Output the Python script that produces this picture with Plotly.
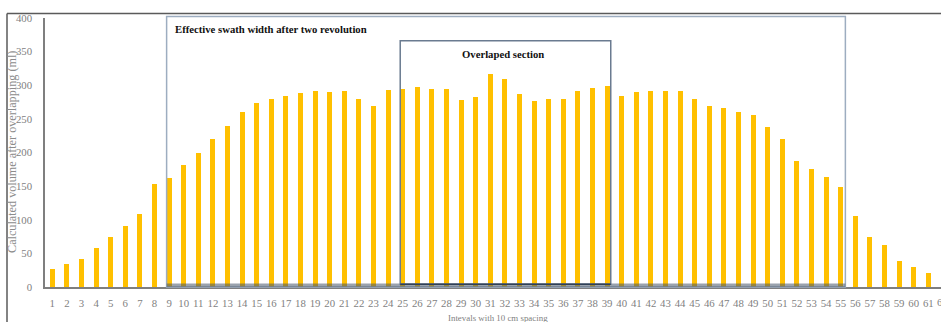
import plotly.graph_objects as go

# Interval index (10 cm spacing) and calculated volume after overlapping (ml)
intervals = list(range(1, 62))
volume_ml = [27, 34, 42, 58, 74, 91, 108, 153, 162, 181,
             200, 220, 240, 260, 274, 280, 284, 289, 291, 290,
             291, 280, 269, 293, 294, 297, 295, 294, 278, 283,
             316, 310, 287, 276, 280, 280, 291, 296, 299, 284,
             290, 291, 291, 292, 280, 269, 266, 260, 256, 238,
             220, 187, 175, 163, 148, 106, 75, 62, 39, 30, 21]
tick_labels = [str(i) for i in range(1, 63)]

# Interval spans of the two highlighted regions
swath_span = (9, 55)
overlap_span = (25, 39)

W, H = 941, 322
M_L, M_R, M_T, M_B = 45, 0, 18, 35
PLOT_W = W - M_L - M_R
PLOT_H = H - M_T - M_B
BAR_W = 0.34
X0 = 0.5
X1 = X0 + PLOT_W / 14.6
Y_MAX = 400

SERIF = "Liberation Serif, Times New Roman, serif"
GREY = "#7f7f7f"
TICK_SIZE = 10.8


def px_x(c):
    return (c - X0) / (X1 - X0)


def px_y(v):
    return v / Y_MAX


def pix_x(p):
    return (p - M_L) / PLOT_W


def pix_y(p):
    return (H - M_B - p) / PLOT_H


fig = go.Figure()
fig.add_trace(go.Bar(
    x=intervals, y=volume_ml, width=BAR_W,
    marker=dict(color="#FFC000", line=dict(width=0)),
    hoverinfo="x+y",
))

sx0 = swath_span[0] - BAR_W / 2
sx1 = swath_span[1] + BAR_W / 2 + 0.15
ox0 = overlap_span[0] - BAR_W / 2
ox1 = overlap_span[1] + BAR_W / 2 + 0.08

shapes = [
    # outer chart frame (top and left edges)
    dict(type="line", xref="paper", yref="paper",
         x0=pix_x(7), x1=pix_x(W + 5), y0=pix_y(13.5), y1=pix_y(13.5),
         line=dict(color="#5a5a5a", width=1.5)),
    dict(type="line", xref="paper", yref="paper",
         x0=pix_x(7), x1=pix_x(7), y0=pix_y(13.5), y1=pix_y(H + 5),
         line=dict(color="#5a5a5a", width=1.5)),
    # effective swath box
    dict(type="rect", xref="paper", yref="paper",
         x0=px_x(sx0), x1=px_x(sx1), y0=0, y1=pix_y(16.5),
         line=dict(color="#9dadc0", width=1.5), fillcolor="rgba(0,0,0,0)",
         layer="above"),
    dict(type="rect", xref="paper", yref="paper",
         x0=px_x(sx0), x1=px_x(sx1), y0=0, y1=px_y(5.2),
         line=dict(width=0), fillcolor="rgba(70,85,105,0.55)", layer="above"),
    # overlapped section box
    dict(type="rect", xref="paper", yref="paper",
         x0=px_x(ox0), x1=px_x(ox1), y0=px_y(4), y1=px_y(366),
         line=dict(color="#6a7b90", width=1.5), fillcolor="rgba(0,0,0,0)",
         layer="above"),
    dict(type="line", xref="paper", yref="paper",
         x0=px_x(ox0), x1=px_x(ox1), y0=px_y(4), y1=px_y(4),
         line=dict(color="#2f4057", width=1.5), layer="above"),
]

annotations = [
    dict(text="<b>Effective swath width after two revolution</b>",
         xref="paper", yref="paper", x=px_x(swath_span[0] + 0.3), y=px_y(384),
         xanchor="left", yanchor="middle", showarrow=False,
         font=dict(family=SERIF, size=10.7, color="#111111")),
    dict(text="<b>Overlaped section</b>",
         xref="paper", yref="paper", x=px_x((ox0 + ox1) / 2 - 0.2), y=px_y(346.5),
         xanchor="center", yanchor="middle", showarrow=False,
         font=dict(family=SERIF, size=10.7, color="#111111")),
    dict(text="Calculated volume after overlapping (ml)",
         xref="paper", yref="paper", x=pix_x(11.5), y=0.5,
         xanchor="center", yanchor="middle", textangle=-90, showarrow=False,
         font=dict(family=SERIF, size=12.2, color="#8c8c8c")),
    dict(text="Intevals with 10 cm spacing",
         xref="paper", yref="paper", x=px_x((X0 + 62.5) / 2), y=pix_y(317.5),
         xanchor="center", yanchor="middle", showarrow=False,
         font=dict(family=SERIF, size=8.9, color=GREY)),
    # last category label, running off the right edge
    dict(text=tick_labels[61],
         xref="paper", yref="paper", x=px_x(62), y=pix_y(302),
         xanchor="center", yanchor="middle", showarrow=False,
         font=dict(family=SERIF, size=TICK_SIZE, color=GREY)),
]

fig.update_layout(
    width=W, height=H,
    margin=dict(l=M_L, r=M_R, t=M_T, b=M_B, pad=0),
    paper_bgcolor="white", plot_bgcolor="white",
    showlegend=False,
    bargap=0,
    shapes=shapes,
    annotations=annotations,
    xaxis=dict(
        range=[X0, X1], tickmode="array",
        tickvals=intervals, ticktext=tick_labels[:61],
        showgrid=False, zeroline=False,
        showline=True, linecolor=GREY, linewidth=2,
        ticks="", ticklabelstandoff=5,
        tickfont=dict(family=SERIF, size=TICK_SIZE, color=GREY),
    ),
    yaxis=dict(
        range=[0, Y_MAX], tickmode="linear", tick0=0, dtick=50,
        showgrid=False, zeroline=False,
        showline=True, linecolor=GREY, linewidth=1.5,
        ticks="", ticklabelstandoff=9,
        tickfont=dict(family=SERIF, size=TICK_SIZE, color=GREY),
    ),
)

fig.write_html("out.html")
